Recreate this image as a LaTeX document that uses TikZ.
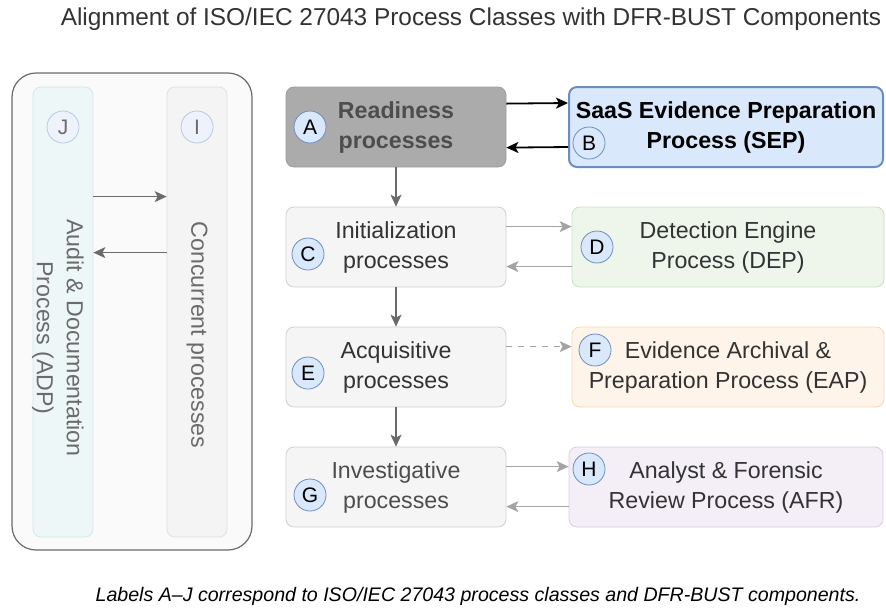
\documentclass[tikz,border=0pt]{standalone}
\usepackage{fontspec}
\setmainfont{Liberation Sans}
\usetikzlibrary{positioning,arrows.meta}

\definecolor{titlegray}{HTML}{333333}
\definecolor{framegray}{HTML}{6B6B6B}
\definecolor{framefill}{HTML}{FAFAFA}
\definecolor{adpfill}{HTML}{EEF7F7}
\definecolor{adpline}{HTML}{D3E8E8}
\definecolor{concfill}{HTML}{F4F4F4}
\definecolor{concline}{HTML}{E0E0E0}
\definecolor{lanetext}{HTML}{6B6B6B}
\definecolor{readyfill}{HTML}{ABABAB}
\definecolor{readyline}{HTML}{9E9E9E}
\definecolor{readytext}{HTML}{4D4D4D}
\definecolor{sepfill}{HTML}{DAE8FC}
\definecolor{sepline}{HTML}{6C8EBF}
\definecolor{procfill}{HTML}{F5F5F5}
\definecolor{procline}{HTML}{CFCFCF}
\definecolor{proctext}{HTML}{333333}
\definecolor{depfill}{HTML}{EEF6EC}
\definecolor{depline}{HTML}{C8E0C0}
\definecolor{eapfill}{HTML}{FEF4EA}
\definecolor{eapline}{HTML}{F4D9A6}
\definecolor{afrfill}{HTML}{F4EFF7}
\definecolor{afrline}{HTML}{D8CCE0}
\definecolor{badgefill}{HTML}{DAE8FC}
\definecolor{badgeline}{HTML}{6C8EBF}
\definecolor{lanebadgefill}{HTML}{EEF3FB}
\definecolor{lanebadgeline}{HTML}{B7C9E3}
\definecolor{linkgray}{HTML}{8A8A8A}
\definecolor{softgray}{HTML}{A3A3A3}

\newcommand{\titlefont}{\fontsize{12.2}{14}\selectfont}
\newcommand{\boxfont}{\fontsize{11.6}{15}\selectfont}
\newcommand{\badgefont}{\fontsize{10.5}{12}\selectfont}
\newcommand{\notefont}{\fontsize{9.8}{11}\selectfont}

\tikzset{
  proc/.style={draw=procline, fill=procfill, text=proctext, rounded corners=4pt,
    minimum width=110pt, minimum height=40pt, inner sep=2pt, align=center, font=\boxfont},
  comp/.style={proc, minimum width=157pt},
  lane/.style={rounded corners=4pt, minimum width=30pt, minimum height=225pt, inner sep=0pt},
  badge/.style={circle, draw=badgeline, fill=badgefill, text=black, minimum size=16pt,
    inner sep=0pt, font=\badgefont},
  lanebadge/.style={badge, draw=lanebadgeline, fill=lanebadgefill, text=lanetext},
  link/.style={->, draw=linkgray, line width=0.6pt},
}

\begin{document}
\begin{tikzpicture}[x=0.5pt, y=-0.5pt, >={Stealth[length=6pt,width=5.5pt,inset=1.5pt]}]
    \useasboundingbox (0,0) rectangle (886,607);
    % Title
    \node[font=\titlefont, text=titlegray] (title) at (471,19)
        {Alignment of ISO/IEC 27043 Process Classes with DFR-BUST Components};

    % Concurrent lanes (left)
    \draw[draw=framegray, fill=framefill, rounded corners=12pt, line width=0.6pt]
        (12,73) rectangle (252,550);
    \node[lane, draw=adpline, fill=adpfill] (adp) at (63,312) {};
    \node[lane, draw=concline, fill=concfill] (conc) at (197,312) {};
    \node[rotate=-90, align=center, font=\boxfont, text=lanetext] (adptext) at (58,338)
        {Audit \& Documentation\\Process (ADP)};
    \node[rotate=-90, font=\boxfont, text=lanetext] (conctext) at (197,335)
        {Concurrent processes};
    \node[lanebadge] (j) at (63,127) {J};
    \node[lanebadge] (i) at (197,127) {I};
    \draw[->, draw=framegray, line width=0.6pt]
        ([yshift=-55pt]adp.north east) -- ([yshift=-55pt]conc.north west);
    \draw[->, draw=framegray, line width=0.6pt]
        ([yshift=-83pt]conc.north west) -- ([yshift=-83pt]adp.north east);

    % Process classes (middle)
    \node[proc, draw=readyline, fill=readyfill, text=readytext, font=\boxfont\bfseries]
        (ready) at (396,127) {Readiness\\processes};
    \node[proc] (init) at (396,247) {Initialization\\processes};
    \node[proc] (acq) at (396,367) {Acquisitive\\processes};
    \node[proc, text=readytext] (inv) at (396,487) {Investigative\\processes};

    % DFR-BUST components (right)
    \node[comp, draw=sepline, fill=sepfill, text=black, line width=1pt, font=\boxfont\bfseries]
        (sep) at (726,127) {SaaS Evidence Preparation\\Process (SEP)};
    \node[comp, draw=depline, fill=depfill, minimum width=156pt] (dep) at (728,247)
        {Detection Engine\\Process (DEP)};
    \node[comp, draw=eapline, fill=eapfill, minimum width=156pt] (eap) at (728,367)
        {Evidence Archival \&\\Preparation Process (EAP)};
    \node[comp, draw=afrline, fill=afrfill] (afr) at (726,487)
        {Analyst \& Forensic\\Review Process (AFR)};

    % Badges
    \node[badge] (a) at (310,127) {A};
    \node[badge] (b) at (589,143) {B};
    \node[badge] (c) at (308,254) {C};
    \node[badge] (d) at (597,247) {D};
    \node[badge] (e) at (308,373) {E};
    \node[badge] (f) at (595,350) {F};
    \node[badge] (g) at (310,495) {G};
    \node[badge] (h) at (589,469) {H};

    % Flow down the process classes
    \foreach \from/\to in {ready/init, init/acq, acq/inv}
        \draw[link, draw=framegray] (\from) -- (\to);

    % Links to the components
    \draw[->, line width=0.9pt] ([yshift=-8.5pt]ready.north east) -- ([yshift=-8.5pt]sep.north west);
    \draw[->, line width=0.9pt] ([yshift=-30.5pt]sep.north west) -- ([yshift=-30.5pt]ready.north east);
    \draw[link, draw=softgray] ([yshift=-10pt]init.north east) -- ([yshift=-10pt]dep.north west);
    \draw[link, draw=softgray] ([yshift=-30pt]dep.north west) -- ([yshift=-30pt]init.north east);
    \draw[link, draw=softgray, dashed] ([yshift=-10pt]acq.north east) -- ([yshift=-10pt]eap.north west);
    \draw[link, draw=softgray] ([yshift=-10pt]inv.north east) -- ([yshift=-10pt]afr.north west);
    \draw[link, draw=softgray] ([yshift=-30pt]afr.north west) -- ([yshift=-30pt]inv.north east);

    % Footnote
    \node[font=\notefont\itshape, text=black] (note) at (478,596)
        {Labels A--J correspond to ISO/IEC 27043 process classes and DFR-BUST components.};
\end{tikzpicture}
\end{document}
